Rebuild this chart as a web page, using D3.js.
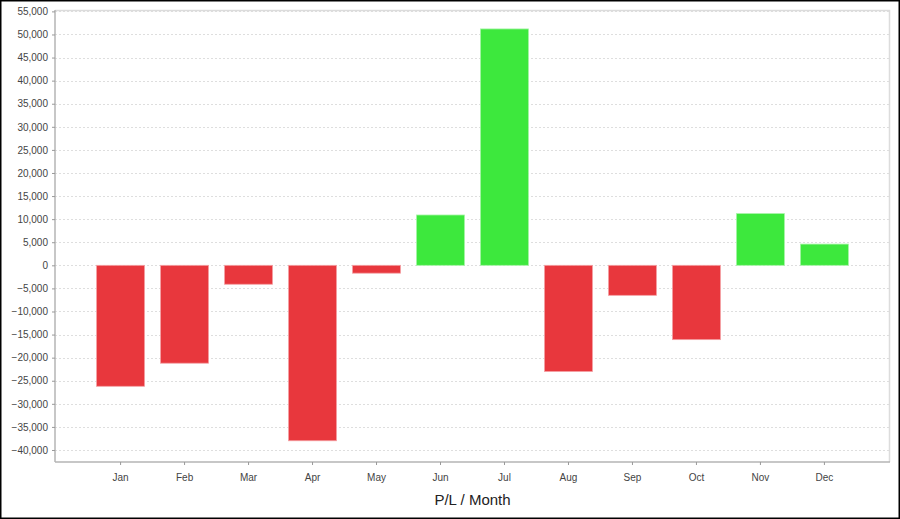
<!DOCTYPE html>
<html>
<head>
<meta charset="utf-8">
<script src="https://cdn.jsdelivr.net/npm/d3@7"></script>
<style>
  body { margin: 0; background: #fff; }
  svg { display: block; font-family: "Liberation Sans", Arial, sans-serif; }
</style>
</head>
<body>
<svg id="chart" width="900" height="519"></svg>
<script>
/* ---------- data ---------- */
const months = ["Jan","Feb","Mar","Apr","May","Jun","Jul","Aug","Sep","Oct","Nov","Dec"];
const profit = [-26200,-21200,-4100,-38000,-1700,10900,51200,-23000,-6500,-16100,11200,4600];
const yTicks = d3.range(-40000, 55001, 5000);

/* ---------- geometry ---------- */
const W = 900, H = 519;
const plot = {left: 55, right: 890, top: 10, bottom: 462};

const svg = d3.select("#chart");

// outer frame
svg.append("rect")
  .attr("x", 0.75).attr("y", 0.75)
  .attr("width", W - 1.5).attr("height", H - 1.5)
  .attr("fill", "#fff").attr("stroke", "#000").attr("stroke-width", 1.5);

const x = d3.scaleBand()
  .domain(months)
  .range([plot.left, plot.right])
  .paddingInner(0.25)
  .paddingOuter(0.65);

const y = d3.scaleLinear()
  .domain([-42600, 55300])
  .range([plot.bottom, plot.top]);

// grid
svg.append("g")
  .selectAll("line")
  .data(yTicks)
  .join("line")
    .attr("x1", plot.left).attr("x2", plot.right)
    .attr("y1", d => Math.round(y(d)) + 0.5)
    .attr("y2", d => Math.round(y(d)) + 0.5)
    .attr("stroke", "#dedede")
    .attr("stroke-dasharray", "2,2");

// top / right light border
svg.append("path")
  .attr("d", `M${plot.left},${plot.top + 0.5}H${plot.right - 0.5}V${plot.bottom}`)
  .attr("fill", "none").attr("stroke", "#dcdcdc").attr("stroke-width", 1.5);

// bars
svg.append("g")
  .selectAll("rect")
  .data(months.map((m, i) => ({m, v: profit[i]})))
  .join("rect")
    .attr("x", d => x(d.m))
    .attr("width", x.bandwidth())
    .attr("y", d => y(Math.max(0, d.v)))
    .attr("height", d => Math.abs(y(d.v) - y(0)))
    .attr("fill", d => d.v < 0 ? "#e8373d" : "#3de83d")
    .attr("stroke", d => d.v < 0 ? "#f4a0a3" : "#a6f4a6")
    .attr("stroke-width", 0.8);

// y axis
const yAxis = d3.axisLeft(y)
  .tickValues(yTicks)
  .tickSize(3)
  .tickPadding(4)
  .tickFormat(d3.format(","));

svg.append("g")
  .attr("transform", `translate(${plot.left},0)`)
  .call(yAxis)
  .call(g => g.select(".domain").attr("stroke", "#b4b4b4").attr("stroke-width", 1.5)
      .attr("d", `M0,${plot.top}V${plot.bottom}`))
  .call(g => g.selectAll(".tick line").attr("stroke", "#999"))
  .call(g => g.selectAll("text").attr("fill", "#444").attr("font-size", 10)
      .attr("font-family", "'Liberation Sans', Arial, sans-serif"));

// x axis
const xAxis = d3.axisBottom(x).tickSize(3).tickPadding(9);

svg.append("g")
  .attr("transform", `translate(0,${plot.bottom})`)
  .call(xAxis)
  .call(g => g.select(".domain").attr("stroke", "#b4b4b4").attr("stroke-width", 1.5)
      .attr("d", `M${plot.left},0H${plot.right}`))
  .call(g => g.selectAll(".tick line").attr("stroke", "#999"))
  .call(g => g.selectAll("text").attr("fill", "#444").attr("font-size", 10)
      .attr("font-family", "'Liberation Sans', Arial, sans-serif"));

// axis title
svg.append("text")
  .attr("x", (plot.left + plot.right) / 2)
  .attr("y", 505)
  .attr("text-anchor", "middle")
  .attr("font-size", 15)
  .attr("fill", "#222")
  .text("P/L / Month");
</script>
</body>
</html>
